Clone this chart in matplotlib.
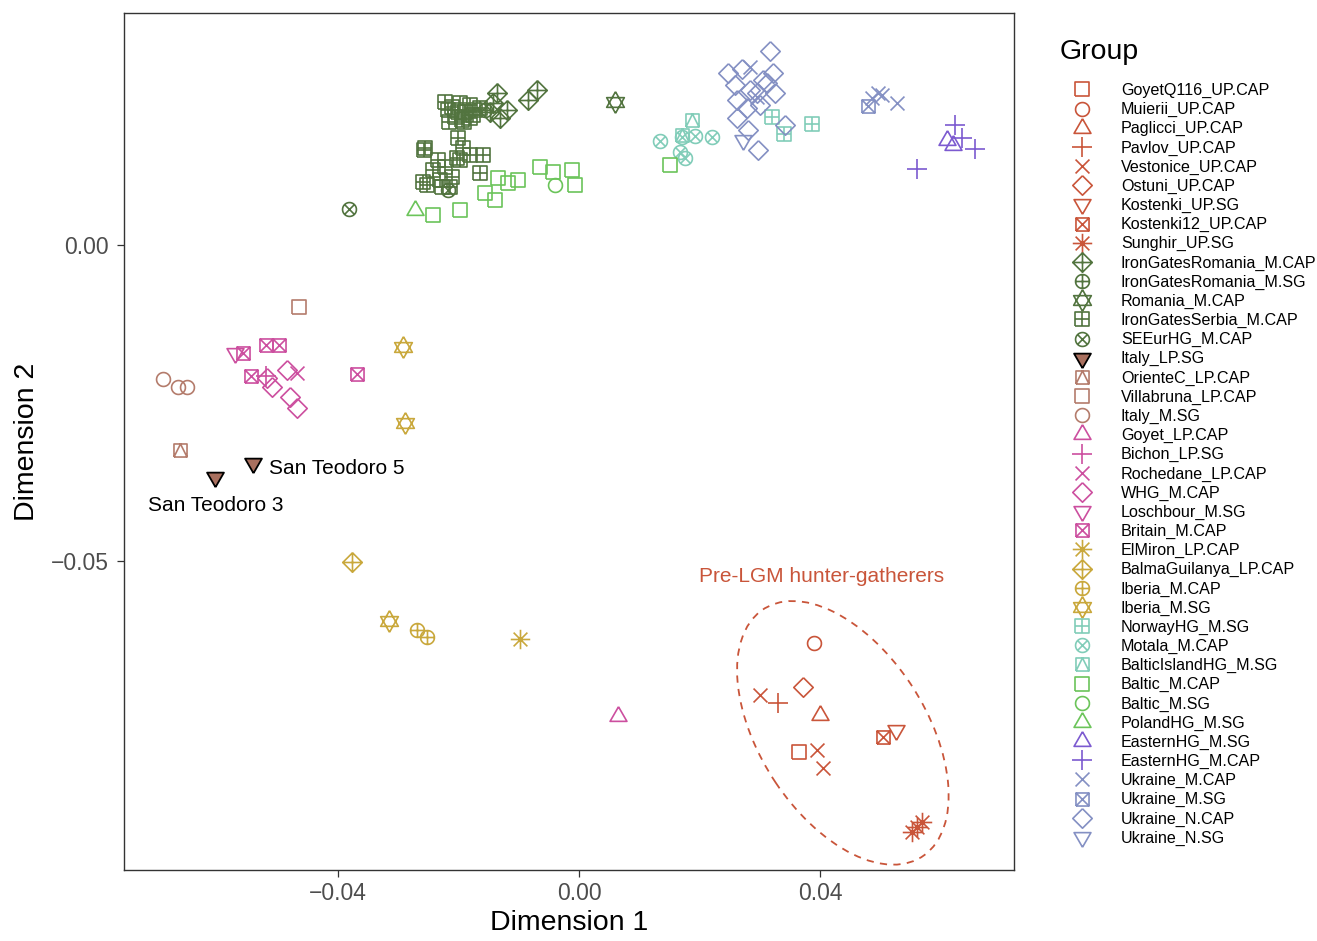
import numpy as np
import matplotlib
matplotlib.use("Agg")
import matplotlib.pyplot as plt
from matplotlib.path import Path
from matplotlib.patches import Ellipse

plt.rcParams['font.family'] = ['Liberation Sans', 'DejaVu Sans']

# ---- data (Dimension 1, Dimension 2) per group ----
goyetq116_up_cap = [(0.0365, -0.0802)]
muierii_up_cap = [(0.0390, -0.0630)]
paglicci_up_cap = [(0.0400, -0.0744)]
pavlov_up_cap = [(0.0330, -0.0725)]
vestonice_up_cap = [(0.0300, -0.0712), (0.0395, -0.0799), (0.0405, -0.0827)]
ostuni_up_cap = [(0.0372, -0.0699)]
kostenki_up_sg = [(0.0526, -0.0767)]
kostenki12_up_cap = [(0.0505, -0.0778)]
sunghir_up_sg = [(0.0569, -0.0913), (0.0553, -0.0929), (0.0561, -0.0921)]
irongatesromania_m_cap = [(-0.0136, 0.0240), (-0.0070, 0.0245), (-0.0085, 0.0229),
                          (-0.0120, 0.0214), (-0.0131, 0.0201), (-0.0143, 0.0225),
                          (-0.0148, 0.0210)]
irongatesromania_m_sg = [(-0.0156, 0.0214)]
romania_m_cap = [(0.0060, 0.0226)]
irongatesserbia_m_cap = [(-0.0222, 0.0226), (-0.0198, 0.0225), (-0.0181, 0.0221),
                         (-0.0217, 0.0214), (-0.0206, 0.0202), (-0.0189, 0.0210),
                         (-0.0173, 0.0214), (-0.0194, 0.0198), (-0.0181, 0.0201),
                         (-0.0164, 0.0217), (-0.0201, 0.0169), (-0.0256, 0.0153),
                         (-0.0193, 0.0153), (-0.0234, 0.0134), (-0.0203, 0.0138),
                         (-0.0181, 0.0142), (-0.0159, 0.0142), (-0.0164, 0.0114),
                         (-0.0242, 0.0119), (-0.0222, 0.0123), (-0.0259, 0.0100),
                         (-0.0231, 0.0103), (-0.0211, 0.0108), (-0.0227, 0.0092),
                         (-0.0214, 0.0092), (-0.0257, 0.0150), (-0.0252, 0.0095),
                         (-0.0198, 0.0134), (-0.0210, 0.0218), (-0.0190, 0.0195),
                         (-0.0175, 0.0205), (-0.0215, 0.0195), (-0.0200, 0.0210)]
seeurhg_m_cap = [(-0.0382, 0.0057), (-0.0217, 0.0087)]
italy_lp_sg = [(-0.0604, -0.0367), (-0.0541, -0.0345)]
orientec_lp_cap = [(-0.0662, -0.0324)]
villabruna_lp_cap = [(-0.0465, -0.0098)]
italy_m_sg = [(-0.0691, -0.0212), (-0.0666, -0.0225), (-0.0651, -0.0225)]
goyet_lp_cap = [(0.0065, -0.0745)]
bichon_lp_sg = [(-0.0520, -0.0207)]
rochedane_lp_cap = [(-0.0468, -0.0202)]
whg_m_cap = [(-0.0517, -0.0210), (-0.0510, -0.0225), (-0.0485, -0.0198),
             (-0.0480, -0.0240), (-0.0468, -0.0258)]
loschbour_m_sg = [(-0.0571, -0.0171)]
britain_m_cap = [(-0.0558, -0.0171), (-0.0520, -0.0158), (-0.0498, -0.0158),
                 (-0.0544, -0.0207), (-0.0369, -0.0204)]
elmiron_lp_cap = [(-0.0098, -0.0623)]
balmaguilanya_lp_cap = [(-0.0377, -0.0501)]
iberia_m_cap = [(-0.0269, -0.0609), (-0.0252, -0.0620)]
iberia_m_sg = [(-0.0292, -0.0161), (-0.0289, -0.0282), (-0.0315, -0.0595)]
norwayhg_m_sg = [(0.0320, 0.0203), (0.0340, 0.0176), (0.0387, 0.0191)]
motala_m_cap = [(0.0134, 0.0165), (0.0171, 0.0171), (0.0193, 0.0172),
                (0.0221, 0.0171), (0.0168, 0.0147), (0.0176, 0.0138)]
balticislandhg_m_sg = [(0.0188, 0.0198), (0.0171, 0.0174)]
baltic_m_cap = [(-0.0242, 0.0047), (-0.0198, 0.0055), (-0.0156, 0.0082),
                (-0.0139, 0.0071), (-0.0134, 0.0106), (-0.0118, 0.0098),
                (-0.0101, 0.0103), (-0.0065, 0.0123), (-0.0043, 0.0115),
                (-0.0012, 0.0119), (-0.0007, 0.0095), (0.0151, 0.0127)]
baltic_m_sg = [(-0.0040, 0.0095)]
polandhg_m_sg = [(-0.0272, 0.0055)]
easternhg_m_sg = [(0.0611, 0.0166), (0.0621, 0.0158)]
easternhg_m_cap = [(0.0624, 0.0190), (0.0636, 0.0169), (0.0657, 0.0152), (0.0561, 0.0120)]
ukraine_m_cap = [(0.0496, 0.0240), (0.0486, 0.0233), (0.0503, 0.0237),
                 (0.0528, 0.0225), (0.0284, 0.0282), (0.0295, 0.0234)]
ukraine_m_sg = [(0.0480, 0.0220)]
ukraine_n_cap = [(0.0317, 0.0307), (0.0247, 0.0272), (0.0271, 0.0278),
                 (0.0322, 0.0272), (0.0259, 0.0253), (0.0312, 0.0256),
                 (0.0325, 0.0240), (0.0262, 0.0229), (0.0295, 0.0240),
                 (0.0300, 0.0221), (0.0262, 0.0201), (0.0342, 0.0190),
                 (0.0281, 0.0182), (0.0297, 0.0150), (0.0284, 0.0245),
                 (0.0279, 0.0217), (0.0305, 0.0261)]
ukraine_n_sg = [(0.0272, 0.0166)]

red = '#C9553A'
dgreen = '#52743F'
brown = '#B47C6C'
pink = '#CC4F9F'
gold = '#C9A83C'
teal = '#82CDB9'
lgreen = '#6BC45A'
purple = '#7C5AD0'
slate = '#8490C3'

# name, points, colour, shape
groups = [
    ("GoyetQ116_UP.CAP", goyetq116_up_cap, red, 'square'),
    ("Muierii_UP.CAP", muierii_up_cap, red, 'circle'),
    ("Paglicci_UP.CAP", paglicci_up_cap, red, 'triangle'),
    ("Pavlov_UP.CAP", pavlov_up_cap, red, 'plus'),
    ("Vestonice_UP.CAP", vestonice_up_cap, red, 'cross'),
    ("Ostuni_UP.CAP", ostuni_up_cap, red, 'diamond'),
    ("Kostenki_UP.SG", kostenki_up_sg, red, 'tri_down'),
    ("Kostenki12_UP.CAP", kostenki12_up_cap, red, 'box_x'),
    ("Sunghir_UP.SG", sunghir_up_sg, red, 'asterisk'),
    ("IronGatesRomania_M.CAP", irongatesromania_m_cap, dgreen, 'diamond_plus'),
    ("IronGatesRomania_M.SG", irongatesromania_m_sg, dgreen, 'circle_plus'),
    ("Romania_M.CAP", romania_m_cap, dgreen, 'star'),
    ("IronGatesSerbia_M.CAP", irongatesserbia_m_cap, dgreen, 'square_plus'),
    ("SEEurHG_M.CAP", seeurhg_m_cap, dgreen, 'circle_x'),
    ("Italy_LP.SG", italy_lp_sg, brown, 'filled_tri_down'),
    ("OrienteC_LP.CAP", orientec_lp_cap, brown, 'square_tri'),
    ("Villabruna_LP.CAP", villabruna_lp_cap, brown, 'square'),
    ("Italy_M.SG", italy_m_sg, brown, 'circle'),
    ("Goyet_LP.CAP", goyet_lp_cap, pink, 'triangle'),
    ("Bichon_LP.SG", bichon_lp_sg, pink, 'plus'),
    ("Rochedane_LP.CAP", rochedane_lp_cap, pink, 'cross'),
    ("WHG_M.CAP", whg_m_cap, pink, 'diamond'),
    ("Loschbour_M.SG", loschbour_m_sg, pink, 'tri_down'),
    ("Britain_M.CAP", britain_m_cap, pink, 'box_x'),
    ("ElMiron_LP.CAP", elmiron_lp_cap, gold, 'asterisk'),
    ("BalmaGuilanya_LP.CAP", balmaguilanya_lp_cap, gold, 'diamond_plus'),
    ("Iberia_M.CAP", iberia_m_cap, gold, 'circle_plus'),
    ("Iberia_M.SG", iberia_m_sg, gold, 'star'),
    ("NorwayHG_M.SG", norwayhg_m_sg, teal, 'square_plus'),
    ("Motala_M.CAP", motala_m_cap, teal, 'circle_x'),
    ("BalticIslandHG_M.SG", balticislandhg_m_sg, teal, 'square_tri'),
    ("Baltic_M.CAP", baltic_m_cap, lgreen, 'square'),
    ("Baltic_M.SG", baltic_m_sg, lgreen, 'circle'),
    ("PolandHG_M.SG", polandhg_m_sg, lgreen, 'triangle'),
    ("EasternHG_M.SG", easternhg_m_sg, purple, 'triangle'),
    ("EasternHG_M.CAP", easternhg_m_cap, purple, 'plus'),
    ("Ukraine_M.CAP", ukraine_m_cap, slate, 'cross'),
    ("Ukraine_M.SG", ukraine_m_sg, slate, 'box_x'),
    ("Ukraine_N.CAP", ukraine_n_cap, slate, 'diamond'),
    ("Ukraine_N.SG", ukraine_n_sg, slate, 'tri_down'),
]


# ---- R-style pch markers built as paths ----
def shape(*lines):
    verts, codes = [], []
    for ln in lines:
        verts += list(ln)
        codes += [Path.MOVETO] + [Path.LINETO] * (len(ln) - 1)
    return Path(verts, codes)


t = np.linspace(0, 2 * np.pi, 41)
SQ = [(-1, -1), (1, -1), (1, 1), (-1, 1), (-1, -1)]
CIRC = list(zip(np.cos(t), np.sin(t)))
DIA = [(0, 1), (1, 0), (0, -1), (-1, 0), (0, 1)]
TUP = [(0, 1), (0.866, -0.5), (-0.866, -0.5), (0, 1)]
TDN = [(0, -1), (0.866, 0.5), (-0.866, 0.5), (0, -1)]
PLUS = [[(0, -1), (0, 1)], [(-1, 0), (1, 0)]]
XSQ = [[(-1, -1), (1, 1)], [(-1, 1), (1, -1)]]
XC = [[(-0.707, -0.707), (0.707, 0.707)], [(-0.707, 0.707), (0.707, -0.707)]]

markers = {
    'square': (shape(SQ), 9.4),
    'circle': (shape(CIRC), 10),
    'triangle': (shape(TUP), 14),
    'plus': (shape(*PLUS), 14),
    'cross': (shape(*XSQ), 10),
    'diamond': (shape(DIA), 14),
    'tri_down': (shape(TDN), 14),
    'filled_tri_down': (Path(TDN), 14),
    'box_x': (shape(SQ, *XSQ), 9.4),
    'asterisk': (shape(*PLUS, *XC), 14),
    'diamond_plus': (shape(DIA, *PLUS), 14),
    'circle_plus': (shape(CIRC, *PLUS), 10),
    'star': (shape([(0, 1), (0.82, -0.45), (-0.82, -0.45), (0, 1)],
                   [(0, -1), (0.82, 0.45), (-0.82, 0.45), (0, -1)]), 15.5),
    'square_plus': (shape(SQ, *PLUS), 9.4),
    'circle_x': (shape(CIRC, *XC), 10),
    'square_tri': (shape(SQ, [(-1, -1), (0, 1), (1, -1)]), 9.4),
}

fig = plt.figure(figsize=(13.17, 9.41), dpi=100)
ax = fig.add_axes([124 / 1317, 1 - 870 / 941, 890 / 1317, 857 / 941])

for name, pts, col, shp in groups:
    xs, ys = zip(*pts)
    path, ms = markers[shp]
    if shp == 'filled_tri_down':
        ax.plot(xs, ys, linestyle='none', marker=path, ms=ms, mfc='#A9705F',
                mec='black', mew=1.3, label=name)
    else:
        ax.plot(xs, ys, linestyle='none', marker=path, ms=ms, mfc='none',
                mec=col, mew=1.2, label=name)

ax.add_patch(Ellipse((0.0438, -0.0772), 0.0472, 0.0273, angle=-55, fill=False,
                     ec=red, lw=1.3, ls=(0, (4, 3.5))))
ax.text(0.0402, -0.0525, "Pre-LGM hunter-gatherers", color=red, fontsize=15,
        ha='center', va='center')
ax.text(-0.0715, -0.0413, "San Teodoro 3", fontsize=15, ha='left', va='center')
ax.text(-0.0515, -0.0354, "San Teodoro 5", fontsize=15, ha='left', va='center')

ax.set_xlim(-0.0755, 0.0722)
ax.set_ylim(-0.0989, 0.0367)
ax.set_xticks([-0.04, 0.0, 0.04])
ax.set_xticklabels(["\u22120.04", "0.00", "0.04"])
ax.set_yticks([-0.05, 0.0])
ax.set_yticklabels(["\u22120.05", "0.00"])
ax.tick_params(labelsize=16.5, labelcolor='#4D4D4D', color='#333333',
               length=5, width=0.9)
ax.tick_params(axis='y', pad=6)
for sp in ax.spines.values():
    sp.set_color('#333333')
    sp.set_linewidth(1.0)
ax.set_xlabel("Dimension 1", fontsize=20.5, labelpad=4)
ax.set_ylabel("Dimension 2", fontsize=20.5, labelpad=8)

fig.text(1060 / 1317, 1 - 52 / 941, "Group", fontsize=20.5, ha='left', va='center')
leg = ax.legend(loc='upper left', bbox_to_anchor=(1066 / 1317, 1 - 83 / 941),
                bbox_transform=fig.transFigure, frameon=False,
                fontsize=11.6, labelspacing=0.25,
                handlelength=2.0, handletextpad=1.4, borderpad=0,
                borderaxespad=0, numpoints=1)

fig.savefig("out.png", dpi=100)
